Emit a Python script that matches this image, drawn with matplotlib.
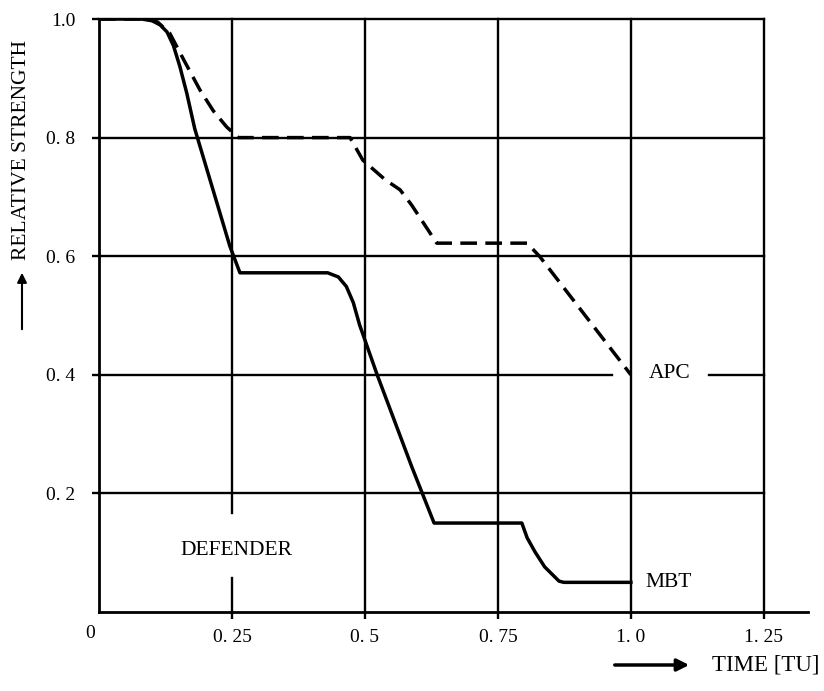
import matplotlib.pyplot as plt

# defender strength over time
mbt_t = [0, 0.08, 0.10, 0.115, 0.128, 0.14, 0.152, 0.165, 0.18, 0.20, 0.225, 0.246, 0.265,
         0.43, 0.45, 0.465, 0.478, 0.49, 0.523, 0.588, 0.63,
         0.795, 0.805, 0.82, 0.838, 0.865, 0.874, 1.0]
mbt_s = [1.0, 1.0, 0.997, 0.99, 0.978, 0.955, 0.92, 0.875, 0.815, 0.755, 0.68, 0.617, 0.572,
         0.572, 0.565, 0.549, 0.522, 0.484, 0.40, 0.245, 0.15,
         0.15, 0.125, 0.101, 0.076, 0.052, 0.05, 0.05]

apc_t = [0, 0.09, 0.11, 0.133, 0.16, 0.19, 0.215, 0.24, 0.262,
         0.472, 0.496, 0.538, 0.566, 0.588, 0.635, 0.805, 0.829, 1.0]
apc_s = [1.0, 1.0, 0.995, 0.976, 0.93, 0.88, 0.845, 0.818, 0.80,
         0.80, 0.762, 0.729, 0.712, 0.686, 0.622, 0.622, 0.599, 0.40]

x_ticks = [0.25, 0.5, 0.75, 1.0, 1.25]
x_ticklabels = ['0. 25', '0. 5', '0. 75', '1. 0', '1. 25']
y_ticks = [0.2, 0.4, 0.6, 0.8, 1.0]
y_ticklabels = ['0. 2', '0. 4', '0. 6', '0. 8', '1.0']

plt.rcParams['font.family'] = ['Liberation Serif', 'DejaVu Serif']

fig = plt.figure(figsize=(8.24, 6.91), dpi=100)
ax = fig.add_axes([99/824, 79/691, 709/824, 593/691])
ax.set_xlim(0, 1.333)
ax.set_ylim(0, 1.0)

for s in ['top', 'right']:
    ax.spines[s].set_visible(False)
for s in ['left', 'bottom']:
    ax.spines[s].set_linewidth(2.0)

grid = dict(color='black', lw=1.7, clip_on=False, zorder=1)
# horizontal rules, with a gap left for the APC label
for y in y_ticks:
    if y == 0.4:
        ax.plot([0, 0.964], [y, y], **grid)
        ax.plot([1.147, 1.25], [y, y], **grid)
    else:
        ax.plot([0, 1.25], [y, y], **grid)
# vertical rules, with a gap for the DEFENDER label
for x in x_ticks:
    if x == 0.25:
        ax.plot([x, x], [0, 0.057], **grid)
        ax.plot([x, x], [0.167, 1.0], **grid)
    else:
        ax.plot([x, x], [0, 1.0], **grid)

ax.plot(mbt_t, mbt_s, color='black', lw=2.5, solid_joinstyle='round', zorder=3)
ax.plot(apc_t, apc_s, color='black', lw=2.5, linestyle=(0, (4.8, 2.4)), zorder=3)

ax.set_xticks(x_ticks)
ax.set_xticklabels(x_ticklabels)
ax.set_yticks(y_ticks)
ax.set_yticklabels(y_ticklabels)
ax.tick_params(axis='both', direction='out', length=5, width=1.7, labelsize=14, pad=7)
ax.tick_params(axis='y', pad=12)
ax.text(-0.017, -0.022, '0', ha='center', va='top', fontsize=14)

ax.text(0.259, 0.103, 'DEFENDER', ha='center', va='center', fontsize=15.5)
ax.text(1.073, 0.402, 'APC', ha='center', va='center', fontsize=15.5)
ax.text(1.071, 0.05, 'MBT', ha='center', va='center', fontsize=15.5)

# axis titles with arrows
fig.text(22/824, 1 - 150/691, 'RELATIVE STRENGTH', rotation=90, ha='center', va='center', fontsize=15.5)
fig.add_artist(plt.Annotation('', xy=(22/824, 1 - 270/691), xytext=(22/824, 1 - 332/691),
                              xycoords='figure fraction',
                              arrowprops=dict(arrowstyle='-|>', color='black', lw=1.5,
                                              mutation_scale=14)))
fig.text(712/824, 1 - 665/691, 'TIME [TU]', ha='left', va='center', fontsize=16.5)
fig.add_artist(plt.Annotation('', xy=(692/824, 1 - 665/691), xytext=(612/824, 1 - 665/691),
                              xycoords='figure fraction',
                              arrowprops=dict(arrowstyle='-|>', color='black', lw=2.5,
                                              mutation_scale=18)))

fig.savefig('out.png', dpi=100)
